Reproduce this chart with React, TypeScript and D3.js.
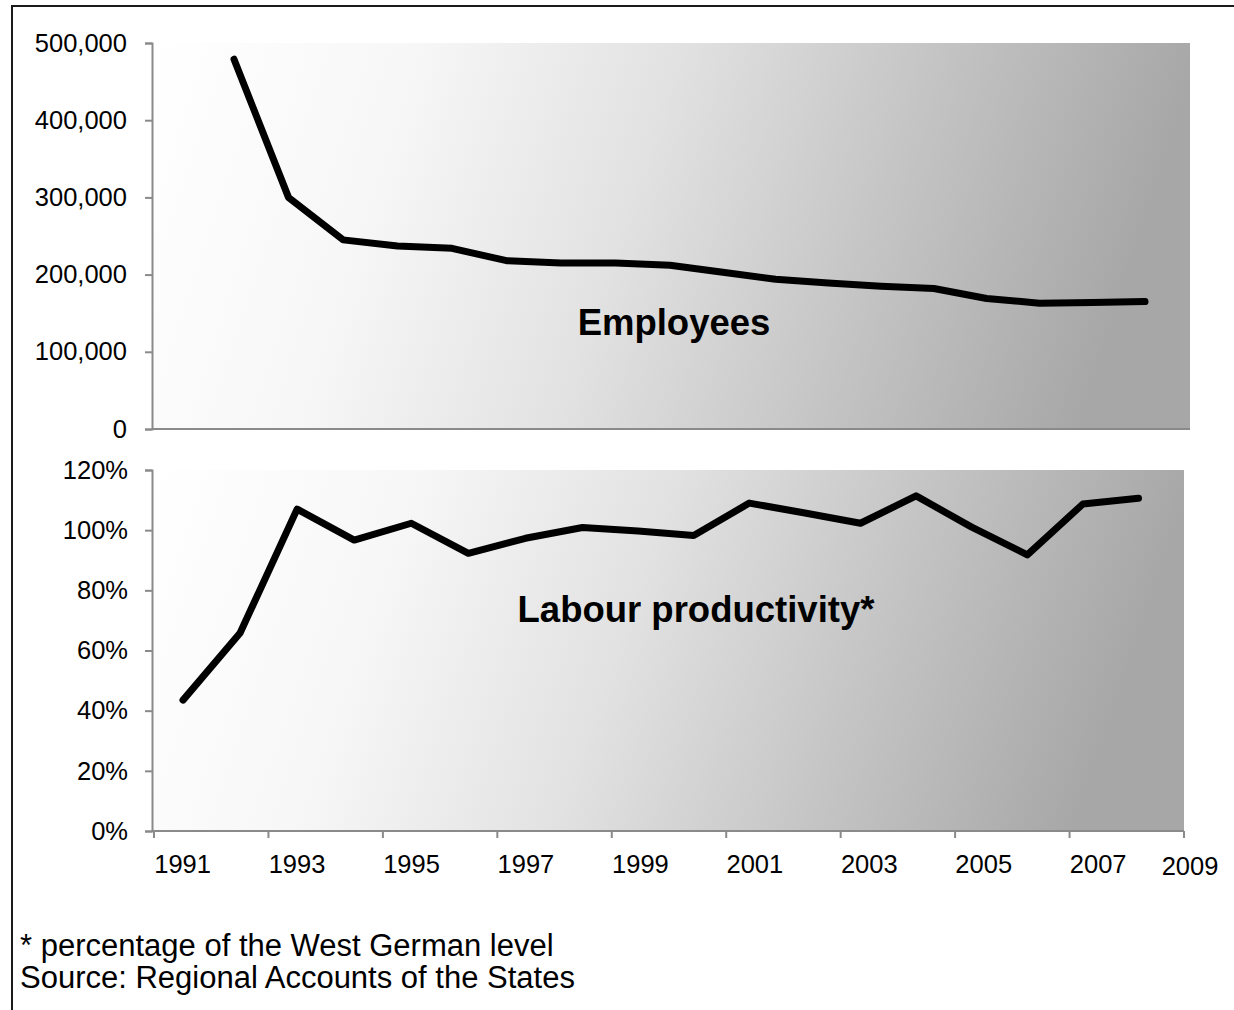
import React, { useEffect, useRef } from 'react';
import * as d3 from 'd3';

// Employees (top panel), 1992-2009
const employeeYears = [1992, 1993, 1994, 1995, 1996, 1997, 1998, 1999, 2000, 2001, 2002, 2003, 2004, 2005, 2006, 2007, 2008, 2009];
const employees = [479000, 300000, 245000, 237000, 234000, 218000, 215000, 215000, 212000, 203000, 194000, 189000, 185000, 182000, 169000, 163000, 164000, 165000];

// Labour productivity (bottom panel), 1991-2008, share of West German level
const productivityYears = [1991, 1992, 1993, 1994, 1995, 1996, 1997, 1998, 1999, 2000, 2001, 2002, 2003, 2004, 2005, 2006, 2007, 2008];
const productivity = [0.435, 0.658, 1.07, 0.967, 1.023, 0.923, 0.973, 1.009, 0.997, 0.982, 1.09, 1.057, 1.023, 1.114, 1.01, 0.918, 1.087, 1.106];

const employeeTicks = [0, 100000, 200000, 300000, 400000, 500000];
const productivityTicks = [0, 0.2, 0.4, 0.6, 0.8, 1.0, 1.2];
const yearLabels = [1991, 1993, 1995, 1997, 1999, 2001, 2003, 2005, 2007];
const endYearLabel = '2009';

const footnotes = ['* percentage of the West German level', 'Source: Regional Accounts of the States'];

const W = 1234;
const H = 1010;
const FONT = '"Liberation Sans", Arial, sans-serif';
const AXIS = '#8a8a8a';

const App: React.FC = () => {
  const svgRef = useRef<SVGSVGElement>(null);

  useEffect(() => {
    if (!svgRef.current) return;
    const svg = d3.select(svgRef.current);
    svg.selectAll('*').remove();

    // background gradient used by both plot areas
    const defs = svg.append('defs');
    const grad = defs.append('linearGradient')
      .attr('id', 'plotGrad')
      .attr('x1', 0).attr('y1', 0)
      .attr('x2', 1).attr('y2', 0.12);
    [
      [0, '#ffffff'],
      [0.25, '#f7f7f7'],
      [0.5, '#e2e2e2'],
      [0.75, '#c4c4c4'],
      [1, '#a7a7a7']
    ].forEach(([o, c]) => grad.append('stop').attr('offset', o as number).attr('stop-color', c as string));

    // outer frame (only top and left edges visible)
    svg.append('path')
      .attr('d', `M12,${H} L12,6 L${W},6`)
      .attr('fill', 'none')
      .attr('stroke', '#1a1a1a')
      .attr('stroke-width', 2);

    // ---------- top panel: employees ----------
    const top = { left: 152, right: 1190, top: 43, bottom: 429 };
    const yTop = d3.scaleLinear().domain([0, 500000]).range([top.bottom, top.top]);
    const xTop = d3.scaleLinear().domain([1992, 2000, 2009]).range([234, 670, 1145]);

    svg.append('rect')
      .attr('x', top.left + 1).attr('y', top.top)
      .attr('width', top.right - top.left - 1).attr('height', top.bottom - top.top)
      .attr('fill', 'url(#plotGrad)');

    const gTopY = svg.append('g')
      .attr('transform', `translate(${top.left},0)`)
      .call(d3.axisLeft(yTop).tickValues(employeeTicks).tickSize(7).tickPadding(18)
        .tickFormat(d => d3.format(',')(d as number)));
    gTopY.select('.domain').attr('stroke', AXIS).attr('stroke-width', 2);
    gTopY.selectAll('line').attr('stroke', AXIS).attr('stroke-width', 2);
    gTopY.selectAll('text').style('font-family', FONT).style('font-size', '25.5px').attr('fill', '#000');

    svg.append('line')
      .attr('x1', top.left).attr('x2', top.right)
      .attr('y1', top.bottom).attr('y2', top.bottom)
      .attr('stroke', AXIS).attr('stroke-width', 2);

    const lineTop = d3.line<number>()
      .x((_, i) => xTop(employeeYears[i]))
      .y(d => yTop(d));
    svg.append('path')
      .datum(employees)
      .attr('d', lineTop)
      .attr('fill', 'none')
      .attr('stroke', '#000')
      .attr('stroke-width', 7)
      .attr('stroke-linecap', 'round')
      .attr('stroke-linejoin', 'round');

    svg.append('text')
      .attr('x', 674).attr('y', 335)
      .attr('text-anchor', 'middle')
      .style('font-family', FONT).style('font-size', '36.5px').style('font-weight', 'bold')
      .text('Employees');

    // ---------- bottom panel: labour productivity ----------
    const bot = { left: 152, right: 1184, top: 470, bottom: 831 };
    const yBot = d3.scaleLinear().domain([0, 1.2]).range([bot.bottom, bot.top]);
    const xBand = d3.scaleBand<number>().domain(productivityYears).range([154, 1184]);
    const xBot = d3.scaleLinear().domain([1991, 1998, 2008]).range([183, 582.5, 1138.5]);

    svg.append('rect')
      .attr('x', bot.left + 1).attr('y', bot.top)
      .attr('width', bot.right - bot.left - 1).attr('height', bot.bottom - bot.top)
      .attr('fill', 'url(#plotGrad)');

    const gBotY = svg.append('g')
      .attr('transform', `translate(${bot.left},0)`)
      .call(d3.axisLeft(yBot).tickValues(productivityTicks).tickSize(7).tickPadding(17)
        .tickFormat(d => d3.format('.0%')(d as number)));
    gBotY.select('.domain').attr('stroke', AXIS).attr('stroke-width', 2);
    gBotY.selectAll('line').attr('stroke', AXIS).attr('stroke-width', 2);
    gBotY.selectAll('text').style('font-family', FONT).style('font-size', '25.5px').attr('fill', '#000');

    // x axis with a tick every second year
    svg.append('line')
      .attr('x1', bot.left).attr('x2', bot.right)
      .attr('y1', bot.bottom).attr('y2', bot.bottom)
      .attr('stroke', AXIS).attr('stroke-width', 2);
    const tickXs = yearLabels.map(y => xBand(y) as number).concat([xBand.range()[1]]);
    svg.append('g').selectAll('line')
      .data(tickXs)
      .enter()
      .append('line')
      .attr('x1', d => d).attr('x2', d => d)
      .attr('y1', bot.bottom).attr('y2', bot.bottom + 7)
      .attr('stroke', AXIS).attr('stroke-width', 2);
    svg.append('g').selectAll('text')
      .data(yearLabels)
      .enter()
      .append('text')
      .attr('x', d => (xBand(d) as number) + xBand.bandwidth() / 2)
      .attr('y', 873)
      .attr('text-anchor', 'middle')
      .style('font-family', FONT).style('font-size', '25.5px')
      .text(d => String(d));
    svg.append('text')
      .attr('x', xBand.range()[1] + 6).attr('y', 875)
      .attr('text-anchor', 'middle')
      .style('font-family', FONT).style('font-size', '25.5px')
      .text(endYearLabel);

    const lineBot = d3.line<number>()
      .x((_, i) => xBot(productivityYears[i]))
      .y(d => yBot(d));
    svg.append('path')
      .datum(productivity)
      .attr('d', lineBot)
      .attr('fill', 'none')
      .attr('stroke', '#000')
      .attr('stroke-width', 7)
      .attr('stroke-linecap', 'round')
      .attr('stroke-linejoin', 'round');

    svg.append('text')
      .attr('x', 696).attr('y', 622)
      .attr('text-anchor', 'middle')
      .style('font-family', FONT).style('font-size', '36.5px').style('font-weight', 'bold')
      .text('Labour productivity*');

    // footnotes
    svg.append('g').selectAll('text')
      .data(footnotes)
      .enter()
      .append('text')
      .attr('x', 20)
      .attr('y', (_, i) => 956 + i * 32)
      .style('font-family', FONT).style('font-size', '31px')
      .text(d => d);
  }, []);

  return (
    <svg
      ref={svgRef}
      width={W}
      height={H}
      style={{ position: 'absolute', left: 0, top: 0, background: '#fff' }}
    />
  );
};

export default App;
